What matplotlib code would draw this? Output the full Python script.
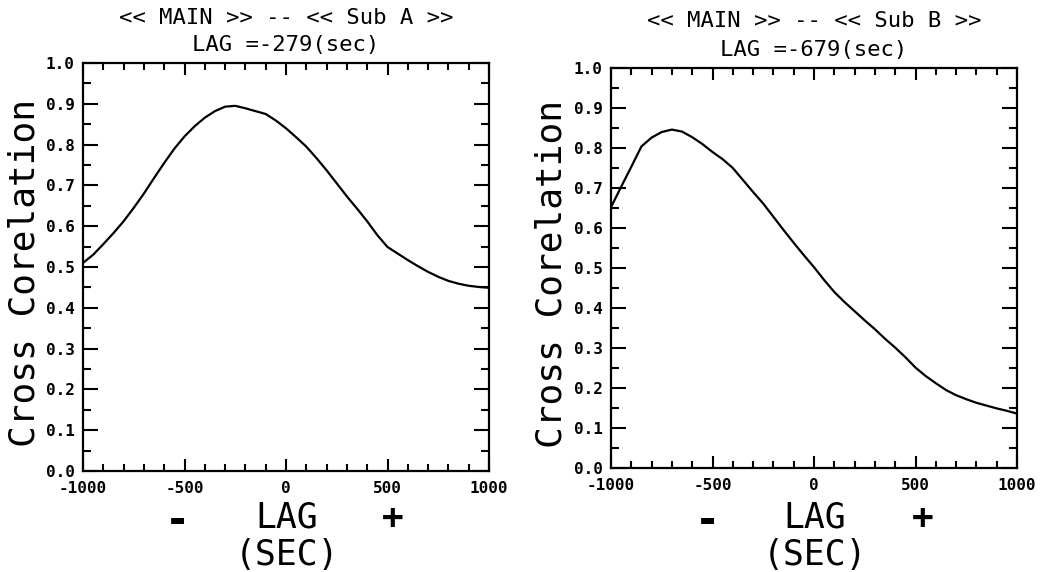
import matplotlib
matplotlib.use("Agg")
import matplotlib.pyplot as plt
from matplotlib.ticker import MultipleLocator, FixedLocator

plt.rcParams['axes.unicode_minus'] = False
FONT = 'DejaVu Sans Mono'

lag = [-1000, -950, -900, -850, -800, -750, -700, -650, -600, -550, -500,
       -450, -400, -350, -300, -250, -200, -150, -100, -50, 0,
       50, 100, 150, 200, 250, 300, 350, 400, 450, 500,
       550, 600, 650, 700, 750, 800, 850, 900, 950, 1000]
corr_a = [0.510, 0.530, 0.556, 0.583, 0.612, 0.645, 0.680, 0.718, 0.755, 0.790, 0.820,
          0.845, 0.866, 0.882, 0.893, 0.895, 0.889, 0.882, 0.875, 0.859, 0.840,
          0.818, 0.795, 0.767, 0.737, 0.705, 0.673, 0.643, 0.612, 0.578, 0.549,
          0.533, 0.517, 0.502, 0.488, 0.476, 0.466, 0.459, 0.454, 0.451, 0.449]
corr_b = [0.652, 0.703, 0.753, 0.804, 0.826, 0.840, 0.846, 0.841, 0.827, 0.810, 0.790,
          0.772, 0.750, 0.720, 0.690, 0.661, 0.628, 0.595, 0.563, 0.532, 0.502,
          0.470, 0.440, 0.415, 0.392, 0.369, 0.347, 0.323, 0.301, 0.277, 0.251,
          0.230, 0.212, 0.195, 0.182, 0.172, 0.163, 0.156, 0.149, 0.143, 0.136]

titles = ["<< MAIN >> -- << Sub A >>", "<< MAIN >> -- << Sub B >>"]
lag_text = ["LAG =-279(sec)", "LAG =-679(sec)"]
xticks = [-1000, -500, 0, 500, 1000]
xticklabels = ["-1000", "-500", "0", "500", "1000"]
yticks = [0.0, 0.1, 0.2, 0.3, 0.4, 0.5, 0.6, 0.7, 0.8, 0.9, 1.0]
yticklabels = ["0.0", "0.1", "0.2", "0.3", "0.4", "0.5", "0.6", "0.7", "0.8", "0.9", "1.0"]
ylabel = "Cross Corelation"

fig = plt.figure(figsize=(10.43, 5.72), dpi=100)
W, H = 1043, 572

boxes = [(83, 63, 489, 471), (611, 68, 1017, 468)]
series = [corr_a, corr_b]

for i, (x0, y0, x1, y1) in enumerate(boxes):
    ax = fig.add_axes([x0 / W, 1 - y1 / H, (x1 - x0) / W, (y1 - y0) / H])
    ax.plot(lag, series[i], color='black', lw=1.6)
    ax.set_xlim(-1000, 1000)
    ax.set_ylim(0, 1.0)
    ax.xaxis.set_major_locator(FixedLocator(xticks))
    ax.set_xticklabels(xticklabels)
    ax.xaxis.set_minor_locator(MultipleLocator(100))
    ax.yaxis.set_major_locator(FixedLocator(yticks))
    ax.set_yticklabels(yticklabels)
    ax.yaxis.set_minor_locator(MultipleLocator(0.05))
    ax.tick_params(axis='both', which='both', direction='in', top=True, right=True,
                   width=1.5, color='black')
    ax.tick_params(axis='x', which='major', length=8.5, pad=7)
    ax.tick_params(axis='x', which='minor', length=5)
    ax.tick_params(axis='y', which='major', length=10.5, pad=6)
    ax.tick_params(axis='y', which='minor', length=5.5)
    for lbl in ax.get_xticklabels() + ax.get_yticklabels():
        lbl.set_fontfamily(FONT)
        lbl.set_fontsize(11.5)
        lbl.set_fontweight('bold')
    for sp in ax.spines.values():
        sp.set_linewidth(1.6)
    cx = (x0 + x1) / 2 / W
    ty1 = [18, 21][i]
    ty2 = [45, 50][i]
    fig.text(cx, 1 - ty1 / H, titles[i], ha='center', va='center',
             fontfamily=FONT, fontsize=16)
    fig.text(cx, 1 - ty2 / H, lag_text[i], ha='center', va='center',
             fontfamily=FONT, fontsize=16)
    ylx = [25, 552][i]
    fig.text(ylx / W, 1 - ((y0 + y1) / 2 + 6) / H, ylabel, rotation=90,
             ha='center', va='center', fontfamily=FONT, fontsize=26)
    lagx = [287, 815][i]
    fig.text(lagx / W, 1 - 517 / H, "LAG", ha='center', va='center',
             fontfamily=FONT, fontsize=25)
    fig.text(lagx / W, 1 - 555 / H, "(SEC)", ha='center', va='center',
             fontfamily=FONT, fontsize=25)
    mx = [177, 707][i]
    px = [393, 923][i]
    fig.text(mx / W, 1 - 521 / H, "-", ha='center', va='center',
             fontfamily=FONT, fontsize=30, fontweight='bold')
    fig.text(px / W, 1 - 519 / H, "+", ha='center', va='center',
             fontfamily=FONT, fontsize=26, fontweight='bold')

fig.savefig("out.png", dpi=100)
